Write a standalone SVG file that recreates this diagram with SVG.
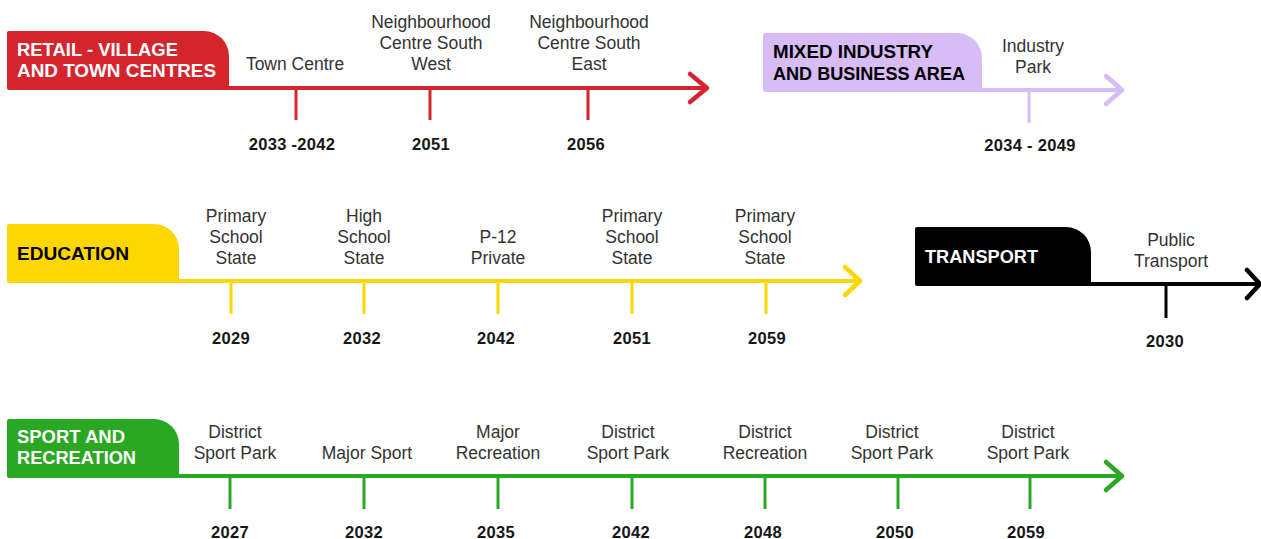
<svg xmlns="http://www.w3.org/2000/svg" width="1261" height="539" viewBox="0 0 1261 539">
<defs>
<style>
.hdr{font-family:"Liberation Sans",Arial,sans-serif;font-weight:bold;font-size:18.5px}
.lbl{font-family:"Liberation Sans",Arial,sans-serif;font-size:17.5px;fill:#333;text-anchor:middle}
.yr{font-family:"Liberation Sans",Arial,sans-serif;font-weight:bold;font-size:16.5px;fill:#161616;text-anchor:middle;letter-spacing:0.3px}
.ln{fill:none;stroke-width:4}
.tk{fill:none;stroke-width:3}
.hd{fill:none;stroke-width:4.5;stroke-linecap:round;stroke-linejoin:round}
.red{stroke:#d4252d}.pur{stroke:#d7bcf6}.yel{stroke:#ffd700}.blk{stroke:#000}.grn{stroke:#2aa823}
</style>
</defs>
<rect width="1261" height="539" fill="#fff"/>

<g id="connectors">
  <!-- retail -->
  <line class="ln red" x1="229" y1="88" x2="705" y2="88"/>
  <polyline class="hd red" points="690,74 707,88 690,102"/>
  <line class="tk red" x1="296" y1="90" x2="296" y2="120"/>
  <line class="tk red" x1="430" y1="90" x2="430" y2="120"/>
  <line class="tk red" x1="588" y1="90" x2="588" y2="120"/>
  <!-- mixed -->
  <line class="ln pur" x1="982" y1="90" x2="1120" y2="90"/>
  <polyline class="hd pur" points="1106,76 1122,90 1106,104"/>
  <line class="tk pur" x1="1029" y1="92" x2="1029" y2="123"/>
  <!-- education -->
  <line class="ln yel" x1="179" y1="281" x2="858" y2="281"/>
  <polyline class="hd yel" points="845,267 860,281 845,295"/>
  <line class="tk yel" x1="231" y1="283" x2="231" y2="314"/>
  <line class="tk yel" x1="364" y1="283" x2="364" y2="314"/>
  <line class="tk yel" x1="498" y1="283" x2="498" y2="314"/>
  <line class="tk yel" x1="632" y1="283" x2="632" y2="314"/>
  <line class="tk yel" x1="766" y1="283" x2="766" y2="314"/>
  <!-- transport -->
  <line class="ln blk" x1="1091" y1="284" x2="1258" y2="284"/>
  <polyline class="hd blk" points="1247,270 1260,284 1247,298"/>
  <line class="tk blk" x1="1166" y1="286" x2="1166" y2="318"/>
  <!-- sport -->
  <line class="ln grn" x1="179" y1="476" x2="1120" y2="476"/>
  <polyline class="hd grn" points="1106,462 1122,476 1106,490"/>
  <line class="tk grn" x1="230" y1="478" x2="230" y2="509"/>
  <line class="tk grn" x1="364" y1="478" x2="364" y2="509"/>
  <line class="tk grn" x1="498" y1="478" x2="498" y2="509"/>
  <line class="tk grn" x1="632" y1="478" x2="632" y2="509"/>
  <line class="tk grn" x1="765" y1="478" x2="765" y2="509"/>
  <line class="tk grn" x1="898" y1="478" x2="898" y2="509"/>
  <line class="tk grn" x1="1030" y1="478" x2="1030" y2="509"/>
</g>

<g id="tab-retail">
  <path d="M9,31 H204 A25,25 0 0 1 229,56 V90 H9 A2,2 0 0 1 7,88 V33 A2,2 0 0 1 9,31 Z" fill="#d4252d"/>
  <text class="hdr" x="17" y="56" fill="#fff" textLength="161" lengthAdjust="spacingAndGlyphs">RETAIL - VILLAGE</text>
  <text class="hdr" x="17" y="77" fill="#fff" textLength="199" lengthAdjust="spacingAndGlyphs">AND TOWN CENTRES</text>
</g>
<g id="tab-mixed">
  <path d="M765,33 H957 A25,25 0 0 1 982,58 V92 H765 A2,2 0 0 1 763,90 V35 A2,2 0 0 1 765,33 Z" fill="#d7bcf6"/>
  <text class="hdr" x="773" y="58" fill="#000" textLength="160" lengthAdjust="spacingAndGlyphs">MIXED INDUSTRY</text>
  <text class="hdr" x="773" y="80" fill="#000" textLength="192" lengthAdjust="spacingAndGlyphs">AND BUSINESS AREA</text>
</g>
<g id="tab-education">
  <path d="M9,224 H154 A25,25 0 0 1 179,249 V283 H9 A2,2 0 0 1 7,281 V226 A2,2 0 0 1 9,224 Z" fill="#ffd700"/>
  <text class="hdr" x="17" y="260" fill="#000" textLength="112" lengthAdjust="spacingAndGlyphs">EDUCATION</text>
</g>
<g id="tab-transport">
  <path d="M917,227 H1066 A25,25 0 0 1 1091,252 V286 H917 A2,2 0 0 1 915,284 V229 A2,2 0 0 1 917,227 Z" fill="#000"/>
  <text class="hdr" x="925" y="263" fill="#fff" textLength="113" lengthAdjust="spacingAndGlyphs">TRANSPORT</text>
</g>
<g id="tab-sport">
  <path d="M9,419 H154 A25,25 0 0 1 179,444 V478 H9 A2,2 0 0 1 7,476 V421 A2,2 0 0 1 9,419 Z" fill="#2aa823"/>
  <text class="hdr" x="17" y="443" fill="#fff" textLength="108" lengthAdjust="spacingAndGlyphs">SPORT AND</text>
  <text class="hdr" x="17" y="464" fill="#fff" textLength="119" lengthAdjust="spacingAndGlyphs">RECREATION</text>
</g>

<!-- retail milestones -->
<g id="m-town-centre">
  <text class="lbl" x="295" y="70">Town Centre</text>
  <text class="yr" x="292" y="150">2033 -2042</text>
</g>
<g id="m-ncsw">
  <text class="lbl" x="431" y="28">Neighbourhood</text>
  <text class="lbl" x="431" y="49">Centre South</text>
  <text class="lbl" x="431" y="70">West</text>
  <text class="yr" x="431" y="150">2051</text>
</g>
<g id="m-ncse">
  <text class="lbl" x="589" y="28">Neighbourhood</text>
  <text class="lbl" x="589" y="49">Centre South</text>
  <text class="lbl" x="589" y="70">East</text>
  <text class="yr" x="586" y="150">2056</text>
</g>
<!-- mixed -->
<g id="m-industry-park">
  <text class="lbl" x="1033" y="52">Industry</text>
  <text class="lbl" x="1033" y="73">Park</text>
  <text class="yr" x="1030" y="151">2034 - 2049</text>
</g>
<!-- education -->
<g id="m-edu-2029">
  <text class="lbl" x="236" y="222">Primary</text>
  <text class="lbl" x="236" y="243">School</text>
  <text class="lbl" x="236" y="264">State</text>
  <text class="yr" x="231" y="344">2029</text>
</g>
<g id="m-edu-2032">
  <text class="lbl" x="364" y="222">High</text>
  <text class="lbl" x="364" y="243">School</text>
  <text class="lbl" x="364" y="264">State</text>
  <text class="yr" x="362" y="344">2032</text>
</g>
<g id="m-edu-2042">
  <text class="lbl" x="498" y="243">P-12</text>
  <text class="lbl" x="498" y="264">Private</text>
  <text class="yr" x="496" y="344">2042</text>
</g>
<g id="m-edu-2051">
  <text class="lbl" x="632" y="222">Primary</text>
  <text class="lbl" x="632" y="243">School</text>
  <text class="lbl" x="632" y="264">State</text>
  <text class="yr" x="632" y="344">2051</text>
</g>
<g id="m-edu-2059">
  <text class="lbl" x="765" y="222">Primary</text>
  <text class="lbl" x="765" y="243">School</text>
  <text class="lbl" x="765" y="264">State</text>
  <text class="yr" x="767" y="344">2059</text>
</g>
<!-- transport -->
<g id="m-public-transport">
  <text class="lbl" x="1171" y="246">Public</text>
  <text class="lbl" x="1171" y="267">Transport</text>
  <text class="yr" x="1165" y="347">2030</text>
</g>
<!-- sport -->
<g id="m-sp-2027">
  <text class="lbl" x="235" y="438">District</text>
  <text class="lbl" x="235" y="459">Sport Park</text>
  <text class="yr" x="230" y="538">2027</text>
</g>
<g id="m-sp-2032">
  <text class="lbl" x="367" y="459">Major Sport</text>
  <text class="yr" x="364" y="538">2032</text>
</g>
<g id="m-sp-2035">
  <text class="lbl" x="498" y="438">Major</text>
  <text class="lbl" x="498" y="459">Recreation</text>
  <text class="yr" x="496" y="538">2035</text>
</g>
<g id="m-sp-2042">
  <text class="lbl" x="628" y="438">District</text>
  <text class="lbl" x="628" y="459">Sport Park</text>
  <text class="yr" x="631" y="538">2042</text>
</g>
<g id="m-sp-2048">
  <text class="lbl" x="765" y="438">District</text>
  <text class="lbl" x="765" y="459">Recreation</text>
  <text class="yr" x="763" y="538">2048</text>
</g>
<g id="m-sp-2050">
  <text class="lbl" x="892" y="438">District</text>
  <text class="lbl" x="892" y="459">Sport Park</text>
  <text class="yr" x="895" y="538">2050</text>
</g>
<g id="m-sp-2059">
  <text class="lbl" x="1028" y="438">District</text>
  <text class="lbl" x="1028" y="459">Sport Park</text>
  <text class="yr" x="1026" y="538">2059</text>
</g>
</svg>
